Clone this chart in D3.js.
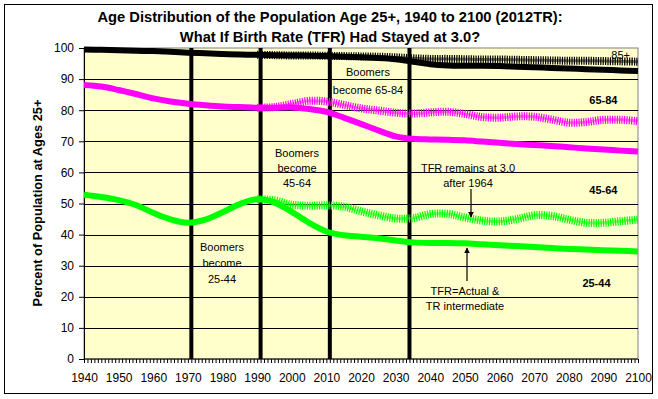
<!DOCTYPE html>
<meta charset="utf-8">
<style>
    body { margin: 0; background: #fff; }
    text { font-family: Arial, "Liberation Sans", sans-serif; }
</style>
<body>
<script src="https://d3js.org/d3.v7.min.js"></script>
<svg width="658" height="399"></svg>
<script>
    // years for every series (5-year steps)
    var years = d3.range(1940, 2101, 5);
    var altYears = d3.range(1990, 2101, 5);

    // cumulative percent: 25-84 (top of the 85+ band), 25-64, 25-44
    var black85 = [99.5, 99.4, 99.3, 99.1, 99.0, 98.8, 98.5, 98.3, 98.1, 97.9, 97.8, 97.7, 97.6, 97.5, 97.4, 97.2,
        97.0, 96.8, 96.4, 95.6, 94.8, 94.4, 94.3, 94.3, 94.2, 94.0, 93.8, 93.6, 93.4, 93.2, 93.0, 92.8, 92.6];
    var magenta65 = [88.1, 87.6, 86.5, 85.2, 83.8, 82.8, 82.1, 81.6, 81.2, 81.0, 80.8, 80.8, 80.9, 80.4, 79.5, 77.6,
        75.6, 73.5, 71.6, 70.8, 70.6, 70.5, 70.3, 69.9, 69.5, 69.1, 68.8, 68.5, 68.1, 67.7, 67.4, 67.0, 66.7];
    var green45 = [52.8, 52.1, 51.1, 49.5, 47.0, 44.9, 43.8, 44.8, 47.2, 49.8, 51.4, 50.3, 47.3, 43.8, 41.0, 39.8,
        39.3, 38.8, 38.1, 37.5, 37.3, 37.3, 37.2, 36.9, 36.6, 36.3, 36.0, 35.7, 35.4, 35.2, 35.0, 34.8, 34.6];

    // TFR stays at 3.0 after 1964
    var black85Alt = [97.8, 97.7, 97.6, 97.6, 97.5, 97.4, 97.3, 97.2, 97.0, 96.7, 96.5, 96.5,
        96.4, 96.3, 96.3, 96.2, 96.1, 96.0, 95.9, 95.9, 95.8, 95.7, 95.6];
    var magenta65Alt = [80.8, 81.0, 82.0, 83.0, 82.8, 81.7, 80.6, 79.9, 79.2, 78.9, 79.3, 79.5,
        78.8, 77.8, 77.6, 78.0, 77.9, 77.0, 76.0, 76.2, 76.9, 76.9, 76.5];
    var green45Alt = [51.4, 51.0, 49.6, 49.3, 49.4, 49.0, 47.5, 46.2, 45.2, 45.3, 46.6, 46.7,
        45.5, 44.5, 44.2, 45.0, 46.2, 46.0, 44.8, 43.8, 43.8, 44.3, 44.8];

    var boomerYears = [1971, 1991, 2011, 2034];
    var yTicks = d3.range(0, 101, 10);
    var xLabels = d3.range(1940, 2101, 10);

    var svg = d3.select("svg");
    var plotL = 84, plotR = 638, plotT = 48, plotB = 359;

    var x = d3.scaleLinear().domain([1940, 2100]).range([plotL, plotR]);
    var y = d3.scaleLinear().domain([0, 100]).range([plotB, plotT]);

    // outer frame
    svg.append("rect").attr("x", 4.5).attr("y", 4.5).attr("width", 648).attr("height", 389)
        .attr("fill", "#fff").attr("stroke", "#000").attr("stroke-width", 1);

    // plot area
    svg.append("rect").attr("x", plotL).attr("y", plotT).attr("width", plotR - plotL).attr("height", plotB - plotT)
        .attr("fill", "#FFFFCC").attr("stroke", "#808080").attr("stroke-width", 1);

    // gridlines
    svg.append("g").selectAll("line")
        .data(yTicks.filter(function(d) { return d > 0 && d < 100; }))
        .enter().append("line")
        .attr("x1", plotL).attr("x2", plotR)
        .attr("y1", function(d) { return Math.round(y(d)) + 0.5; })
        .attr("y2", function(d) { return Math.round(y(d)) + 0.5; })
        .attr("stroke", "#000").attr("stroke-width", 1);

    // boomer marker lines
    svg.append("g").selectAll("line")
        .data(boomerYears)
        .enter().append("line")
        .attr("x1", function(d) { return x(d); })
        .attr("x2", function(d) { return x(d); })
        .attr("y1", plotT).attr("y2", plotB)
        .attr("stroke", "#000").attr("stroke-width", 4);

    // axes
    var yAxis = svg.append("g")
        .attr("transform", "translate(" + plotL + ",0)")
        .call(d3.axisLeft(y).tickValues(yTicks).tickSize(5).tickPadding(5));
    yAxis.selectAll("text").style("font-size", "12px").attr("fill", "#000");

    var xAxis = svg.append("g")
        .attr("transform", "translate(0," + plotB + ")")
        .call(d3.axisBottom(x).tickValues(d3.range(1940, 2101, 1)).tickSize(4).tickPadding(10)
            .tickFormat(function(d) { return xLabels.indexOf(d) >= 0 ? d : ""; }));
    xAxis.selectAll("text").style("font-size", "12px").attr("fill", "#000");
    xAxis.select(".domain").remove();
    xAxis.append("line").attr("x1", plotL).attr("x2", plotR).attr("stroke", "#000");

    // series
    function drawLine(xs, vals, color, hatched) {
        var line = d3.line()
            .x(function(d, i) { return x(xs[i]); })
            .y(function(d) { return y(d); })
            .curve(d3.curveCatmullRom);
        var p = svg.append("path").datum(vals)
            .attr("d", line)
            .attr("fill", "none")
            .attr("stroke", color)
            .attr("stroke-linejoin", "round");
        if (hatched) {
            p.attr("stroke-width", 8).attr("stroke-dasharray", "1.2,1.2");
            svg.append("path").datum(vals).attr("d", line).attr("fill", "none")
                .attr("stroke", color).attr("stroke-width", 3).attr("stroke-opacity", 0.5);
        } else {
            p.attr("stroke-width", 6);
        }
    }

    drawLine(years, black85, "#000", false);
    drawLine(years, magenta65, "#FF00FF", false);
    drawLine(years, green45, "#00FF00", false);
    drawLine(altYears, black85Alt, "#000", true);
    drawLine(altYears, magenta65Alt, "#FF00FF", true);
    drawLine(altYears, green45Alt, "#00FF00", true);

    // title
    svg.append("text").attr("x", 330).attr("y", 22).attr("text-anchor", "middle")
        .style("font-size", "14.7px").style("font-weight", "bold")
        .text("Age Distribution of the Population Age 25+, 1940 to 2100 (2012TR):");
    svg.append("text").attr("x", 330).attr("y", 42).attr("text-anchor", "middle")
        .style("font-size", "14.7px").style("font-weight", "bold")
        .text("What If Birth Rate (TFR) Had Stayed at 3.0?");

    svg.append("text")
        .attr("transform", "translate(42," + 203 + ")rotate(-90)")
        .attr("text-anchor", "middle")
        .style("font-size", "12.8px").style("font-weight", "bold")
        .text("Percent of Population at Ages 25+");

    // annotations
    function note(lines, cx, y0, step) {
        var t = svg.append("text").attr("text-anchor", "middle").style("font-size", "11px");
        lines.forEach(function(s, i) {
            t.append("tspan").attr("x", cx).attr("y", y0 + i * step).text(s);
        });
    }
    note(["Boomers", "become", "25-44"], 222, 251, 16);
    note(["Boomers", "become", "45-64"], 297, 157, 15);
    note(["Boomers", "become 65-84"], 368, 76, 18);
    note(["TFR remains at 3.0", "after 1964"], 468, 172, 15);
    note(["TFR=Actual &", "TR intermediate"], 465, 295, 15);

    var bold = [["85+", 2095, 59, "normal"], ["65-84", 2090, 104, "bold"], ["45-64", 2090, 194, "bold"], ["25-44", 2088, 287, "bold"]];
    bold.forEach(function(b) {
        svg.append("text").attr("x", x(b[1])).attr("y", b[2]).attr("text-anchor", "middle")
            .style("font-size", "11px").style("font-weight", b[3]).text(b[0]);
    });

    // arrows
    var defs = svg.append("defs");
    defs.append("marker").attr("id", "ah").attr("viewBox", "0 0 10 10").attr("refX", 9).attr("refY", 5)
        .attr("markerWidth", 5).attr("markerHeight", 5).attr("orient", "auto")
        .append("path").attr("d", "M0,0L10,5L0,10z").attr("fill", "#000");
    svg.append("line").attr("x1", 471).attr("y1", 189).attr("x2", 471).attr("y2", 217)
        .attr("stroke", "#000").attr("stroke-width", 1.2).attr("marker-end", "url(#ah)");
    svg.append("line").attr("x1", 467).attr("y1", 281).attr("x2", 467).attr("y2", 248)
        .attr("stroke", "#000").attr("stroke-width", 1.2).attr("marker-end", "url(#ah)");
</script>
</body>
